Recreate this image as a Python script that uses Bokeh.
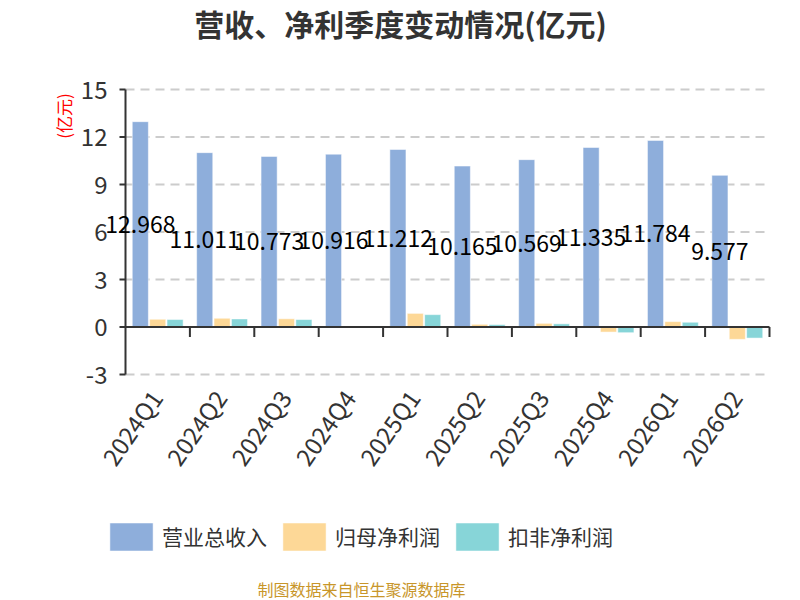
import math
from bokeh.plotting import figure
from bokeh.models import (ColumnDataSource, Range1d, Label, Legend, LegendItem)
from bokeh.core.properties import value
from bokeh.embed import file_html
from bokeh.resources import INLINE

# ---------------- data ----------------
quarters = ["2024Q1", "2024Q2", "2024Q3", "2024Q4", "2025Q1",
            "2025Q2", "2025Q3", "2025Q4", "2026Q1", "2026Q2"]
revenue = [12.968, 11.011, 10.773, 10.916, 11.212, 10.165, 10.569, 11.335, 11.784, 9.577]
net_profit = [0.49, 0.55, 0.52, -0.03, 0.86, 0.17, 0.23, -0.32, 0.34, -0.78]
deducted_profit = [0.47, 0.51, 0.47, -0.05, 0.78, 0.15, 0.20, -0.36, 0.30, -0.70]
y_ticks = [-3, 0, 3, 6, 9, 12, 15]
series_names = ["营业总收入", "归母净利润", "扣非净利润"]
title_text = "营收、净利季度变动情况(亿元)"
unit_text = "(亿元)"
source_text = "制图数据来自恒生聚源数据库"

# ---------------- style / geometry ----------------
FONT = "Noto Sans CJK SC"
BLUE, ORANGE, TEAL = "#8eaedb", "#fdd897", "#87d5d8"
AXIS = "#333333"
W, H = 800, 600
PL, PR, PT, PB = 125, 769, 89, 374          # plotting area in pixels

n = len(quarters)
ymin, ymax = min(y_ticks), max(y_ticks)
ppx = (PR - PL) / n
ppy = (PB - PT) / (ymax - ymin)

def px_x(d):  # pixel distance -> x data units
    return d / ppx

def px_y(d):  # pixel distance -> y data units
    return d / ppy

p = figure(width=W, height=H, output_backend="svg", toolbar_location=None,
           x_range=Range1d(-px_x(PL), n + px_x(W - PR)),
           y_range=Range1d(ymin - px_y(H - PB), ymax + px_y(PT)),
           x_axis_location=None, y_axis_location=None, min_border=0)
p.outline_line_color = None
p.grid.visible = False
p.background_fill_color = "white"
p.border_fill_color = "white"

centers = [i + 0.5 for i in range(n)]
off = 0.27
bw = 0.25

# gridlines (value axis)
p.segment(x0=[0] * len(y_ticks), x1=[n] * len(y_ticks), y0=y_ticks, y1=y_ticks,
          line_color="#cccccc", line_width=2, line_dash="9 6")

src = ColumnDataSource(dict(
    xb=[c - off for c in centers], xo=centers, xt=[c + off for c in centers],
    rev=revenue, net=net_profit, ded=deducted_profit,
    ymid=[v / 2 for v in revenue],
    lab=[f"{v:.3f}" for v in revenue],
))

r1 = p.vbar(x="xb", top="rev", bottom=0, width=bw, source=src, fill_color=BLUE,
            line_color="white", line_alpha=0.5, line_width=1)
r2 = p.vbar(x="xo", top="net", bottom=0, width=bw, source=src, fill_color=ORANGE,
            line_color="white", line_alpha=0.5, line_width=1)
r3 = p.vbar(x="xt", top="ded", bottom=0, width=bw, source=src, fill_color=TEAL,
            line_color="white", line_alpha=0.5, line_width=1)

# category axis line on zero with ticks at category boundaries
p.segment(x0=[0], x1=[n], y0=[0], y1=[0], line_color=AXIS, line_width=2)
bounds = list(range(1, n + 1))
p.segment(x0=bounds, x1=bounds, y0=[0] * n, y1=[-px_y(10)] * n,
          line_color=AXIS, line_width=2)

# value axis line, ticks and labels
p.segment(x0=[0], x1=[0], y0=[ymin], y1=[ymax], line_color=AXIS, line_width=2)
p.segment(x0=[0] * len(y_ticks), x1=[-px_x(6)] * len(y_ticks), y0=y_ticks, y1=y_ticks,
          line_color=AXIS, line_width=2)
p.text(x=[-px_x(18)] * len(y_ticks), y=y_ticks, text=[str(t) for t in y_ticks],
       text_align="right", text_baseline="middle", text_font=value(FONT),
       text_font_size="24px", text_color=AXIS)

# category labels (rotated)
p.text(x=[c - px_x(2) for c in centers], y=[ymin - px_y(18)] * n, text=quarters,
       angle=math.radians(55), text_align="right", text_baseline="middle",
       text_font=value(FONT), text_font_size="24px", text_color=AXIS)

# value labels on revenue bars
p.text(x="xb", y="ymid", text="lab", source=src, text_align="center",
       text_baseline="middle", text_font=value(FONT), text_font_size="23px",
       text_color="black")

# title, unit, source
p.add_layout(Label(x=400, y=H - 22.5, x_units="screen", y_units="screen",
                   text=title_text, text_align="center", text_baseline="middle",
                   text_font=FONT, text_font_size="30px", text_font_style="bold",
                   text_color=AXIS))
p.add_layout(Label(x=63, y=H - 115.5, x_units="screen", y_units="screen",
                   text=unit_text, angle=math.pi / 2, text_align="center",
                   text_baseline="middle", text_font=FONT, text_font_size="17px",
                   text_color="red"))
p.add_layout(Label(x=361, y=H - 588, x_units="screen", y_units="screen",
                   text=source_text, text_align="center", text_baseline="middle",
                   text_font=FONT, text_font_size="16px", text_color="#c8962a"))

# legend (Bokeh draws area icons at 80% of the glyph box)
legend = Legend(items=[LegendItem(label=series_names[0], renderers=[r1]),
                       LegendItem(label=series_names[1], renderers=[r2]),
                       LegendItem(label=series_names[2], renderers=[r3])],
                location=(104, H - 553.5), orientation="horizontal",
                glyph_width=54, glyph_height=35, label_height=35,
                label_text_font=FONT, label_text_font_size="21px",
                label_text_color=AXIS, label_standoff=4, spacing=10,
                padding=0, margin=0, border_line_alpha=0,
                background_fill_alpha=0)
p.add_layout(legend)

open("out.html", "w").write(file_html(p, INLINE))
